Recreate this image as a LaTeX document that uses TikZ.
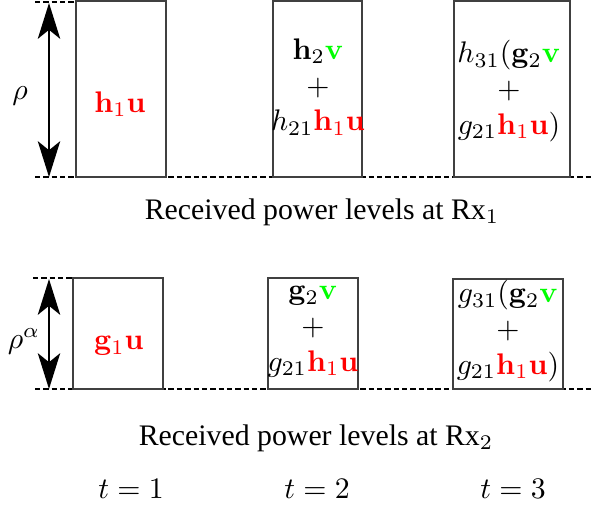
\documentclass[tikz,border=0pt]{standalone}
\usepackage[no-math]{fontspec}
\setmainfont{Liberation Serif}
\usetikzlibrary{arrows.meta}
\newcommand{\hone}{{\color{red}\mathbf{h}_1\mathbf{u}}}
\newcommand{\gone}{{\color{red}\mathbf{g}_1\mathbf{u}}}
\newcommand{\vsig}{{\color{green}\mathbf{v}}}
\tikzset{
  level/.style={draw=black!75, line width=0.45pt},
  guide/.style={dash pattern=on 1.8pt off 1pt, line width=0.7pt},
  span/.style={{Stealth[length=12pt,width=7.5pt,inset=3pt]}-{Stealth[length=12pt,width=7.5pt,inset=3pt]}, line width=0.8pt},
  mix/.style={align=center, inner sep=0pt}
}
\begin{document}
\begin{tikzpicture}[x=0.0118cm,y=-0.0118cm]
  \useasboundingbox (0,0) rectangle (593,505);
  \draw[guide] (35,2) coordinate (rxa top) -- (76,2);
  \draw[guide] (35,177) -- (593,177);
  \coordinate (rxa base) at (49,177);
  \draw[level] (76,1) rectangle (166,177);
  \draw[level] (273,1) rectangle (362,177);
  \draw[level] (454,1) rectangle (570,177);
  \node[mix] (a1) at (120,104) {$\hone$};
  \node[mix] (a2) at (318,87) {$\mathbf{h}_2\vsig$\\$+$\\$h_{21}\hone$};
  \node[mix] (a3) at (509,91) {$h_{31}(\mathbf{g}_2\vsig$\\$+$\\$g_{21}\hone)$};
  \draw[span] (49,3) coordinate (rxa tip) -- (rxa base);
  \node (rho a) at (20,96) {$\rho$};
  \node (cap a) at (322,212) {Received power levels at Rx$_1$};

  \draw[guide] (33,278) -- (73,278);
  \draw[guide] (35,389) -- (593,389);
  \coordinate (rxb base) at (49,389);
  \draw[level] (73,278) rectangle (163,389);
  \draw[level] (268,278) rectangle (358,389);
  \draw[level] (453,279) rectangle (563,389);
  \node[mix] (b1) at (119,346) {$\gone$};
  \node[mix] (b2) at (313,332) {$\mathbf{g}_2\vsig$\\$+$\\$g_{21}\hone$};
  \node[mix] (b3) at (508,331) {$g_{31}(\mathbf{g}_2\vsig$\\$+$\\$g_{21}\hone)$};
  \draw[span] (49,279) coordinate (rxb tip) -- (rxb base);
  \node (rho b) at (24,341) {$\rho^\alpha$};
  \node (cap b) at (316,438) {Received power levels at Rx$_2$};

  \node (t1) at (131,489) {$t=1$};
  \node (t2) at (317,489) {$t=2$};
  \node (t3) at (513,489) {$t=3$};
\end{tikzpicture}
\end{document}
